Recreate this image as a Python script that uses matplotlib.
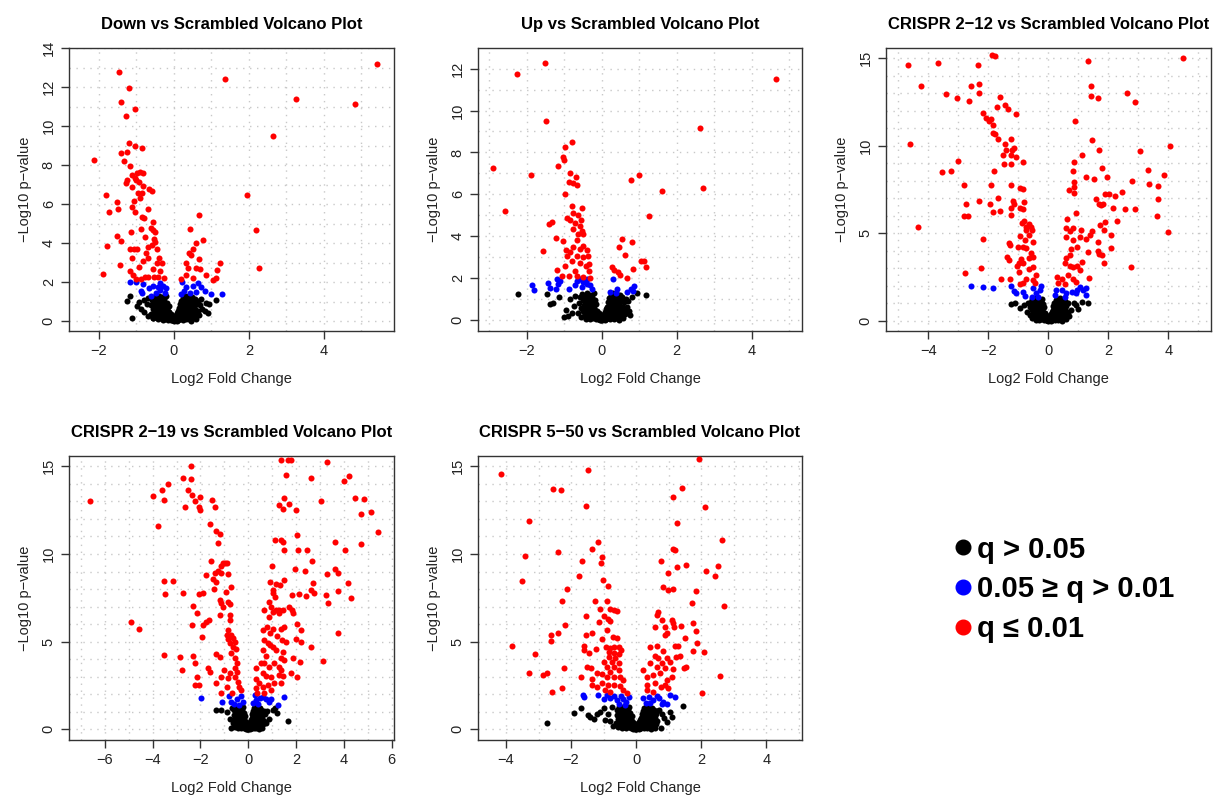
### volcano plots for knockdown / CRISPR lines vs scrambled control
import numpy as np
import matplotlib
matplotlib.use("Agg")
import matplotlib.pyplot as plt
from matplotlib.ticker import MultipleLocator
from matplotlib.lines import Line2D

plt.rcParams['font.family'] = ['Liberation Sans', 'DejaVu Sans']

### shared dense core of non-significant genes (log2FC, -log10 p)
core_black = [(-0.62,0.35),(-0.6,0.82),(-0.58,1.1),(-0.56,0.15),(-0.55,0.6),(-0.53,1.25),(-0.51,0.42),(-0.5,0.95),
    (-0.48,0.22),(-0.47,0.72),(-0.45,1.15),(-0.44,0.5),(-0.42,0.08),(-0.41,0.88),(-0.4,1.3),(-0.38,0.32),(-0.37,0.62),
    (-0.36,1.02),(-0.34,0.15),(-0.33,0.8),(-0.32,1.22),(-0.31,0.45),(-0.3,0.05),(-0.29,0.98),(-0.28,0.68),(-0.27,0.28),
    (-0.26,1.12),(-0.25,0.55),(-0.24,0.85),(-0.23,0.12),(-0.22,0.4),(-0.21,1.28),(-0.2,0.7),(-0.19,0.22),(-0.18,0.95),
    (-0.17,0.5),(-0.16,0.06),(-0.15,0.32),(-0.14,0.78),(-0.13,0.18),(-0.12,0.45),(-0.11,0.1),(-0.1,0.28),(-0.09,0.04),
    (-0.08,0.16),(-0.07,0.35),(-0.06,0.08),(-0.05,0.2),(-0.04,0.03),(-0.03,0.12),(-0.02,0.06),(-0.01,0.01),(0.0,0.1),
    (0.01,0.03),(0.02,0.14),(0.03,0.05),(0.04,0.22),(0.05,0.08),(0.06,0.3),(0.07,0.12),(0.08,0.02),(0.09,0.4),(0.1,0.18),
    (0.11,0.07),(0.12,0.52),(0.13,0.26),(0.14,0.65),(0.15,0.1),(0.16,0.38),(0.17,0.85),(0.18,0.2),(0.19,0.58),(0.2,1.05),
    (0.21,0.32),(0.22,0.75),(0.23,0.05),(0.24,1.2),(0.25,0.48),(0.26,0.9),(0.27,0.15),(0.28,0.66),(0.29,1.28),(0.3,0.36),
    (0.31,1.0),(0.32,0.08),(0.33,0.55),(0.34,0.82),(0.35,1.15),(0.36,0.25),(0.37,0.7),(0.38,1.3),(0.39,0.42),(0.4,0.95),
    (0.41,0.12),(0.42,0.6),(0.43,1.1),(0.44,0.3),(0.45,0.8),(0.46,0.02),(0.47,0.5),(0.48,1.22),(0.5,0.7),(0.51,0.18),
    (0.52,0.98),(0.54,0.4),(0.55,1.12),(0.57,0.62),(0.58,0.1),(0.6,0.85),(0.62,0.3),(0.64,1.02),(0.65,0.5)]

### Down vs Scrambled
down_red = [(5.42,13.18),(-1.47,12.75),(1.35,12.43),(-1.19,11.93),(-1.40,11.23),(3.25,11.38),(4.83,11.15),(-1.05,10.87),
    (-1.27,10.51),(2.63,9.50),(-1.19,9.15),(-1.03,8.99),(-0.84,8.89),(-1.40,8.63),(-1.24,8.68),(-2.12,8.26),(-1.34,8.22),
    (-1.16,7.95),(-0.91,7.64),(-0.98,7.57),(-1.11,7.49),(-0.83,7.57),(-1.05,7.32),(-1.0,7.23),(-1.24,7.23),(-1.29,7.06),
    (-0.93,7.15),(-1.11,6.89),(-0.83,6.94),(-0.66,6.79),(-0.58,6.65),(-0.95,6.55),(-0.84,6.58),(-1.82,6.48),(1.96,6.48),
    (-0.91,6.31),(-1.51,6.10),(-1.07,6.14),(-1.11,5.86),(-1.48,5.73),(-0.68,5.73),(-1.73,5.59),(-1.04,5.59),(-0.86,5.32),
    (-0.81,5.28),(0.68,5.42),(-0.56,5.09),(-1.14,4.55),(-0.87,4.72),(-0.62,4.75),(-0.56,4.67),(-0.51,4.55),(0.44,4.70),
    (2.18,4.68),(-1.52,4.36),(-1.42,4.12),(-0.76,4.32),(-0.53,4.21),(0.77,4.15),(0.60,3.98),(-0.50,4.07),(-0.69,3.81),
    (-0.58,3.88),(-1.79,3.86),(-1.18,3.69),(-1.06,3.71),(-0.98,3.69),(-0.45,3.68),(0.52,3.69),(-0.74,3.49),(0.40,3.49),
    (0.46,3.40),(-0.70,3.21),(-1.11,3.21),(-0.40,3.21),(0.66,3.16),(-0.83,3.09),(-0.45,2.97),(-0.33,2.97),(1.24,2.96),
    (-1.45,2.85),(0.33,2.96),(-0.93,2.79),(0.38,2.70),(2.28,2.70),(-0.56,2.65),(0.58,2.70),(1.16,2.62),(0.70,2.65),
    (-1.18,2.58),(-0.38,2.58),(0.86,2.34),(-1.10,2.34),(-1.88,2.39),(0.31,2.34),(-0.78,2.24),(-0.68,2.24),(-0.54,2.24),
    (-0.43,2.24),(-0.27,2.19),(1.11,2.19),(1.04,2.10),(0.51,2.19),(0.20,2.14),(-1.0,2.14),(-0.89,2.17)]
down_blue = [(-1.16,2.02),(-1.02,2.02),(-0.83,1.88),(-0.89,1.56),(-0.84,1.42),(-0.67,1.68),(-0.56,1.79),(-0.43,1.76),
    (-0.36,1.59),(-0.29,1.79),(-0.25,1.42),(-0.38,1.93),(-0.47,1.42),(-0.60,1.28),(0.22,2.02),(0.28,1.56),(0.20,1.38),
    (0.51,1.79),(0.64,1.93),(0.73,1.73),(0.84,1.54),(1.00,1.38),(1.29,1.37),(0.42,1.42),(0.60,1.50),(-0.20,1.68),(0.33,1.76)]
down_black = [(-1.12,0.14),(-1.26,1.03),(-1.16,1.28),(-0.94,0.99),(-0.81,0.48),(-0.57,0.14),(0.67,0.31),(0.82,0.51),
    (1.11,1.08),(0.93,0.85),(-0.88,0.62),(-0.72,0.88),(-0.98,0.75),(-0.79,1.08),(-0.7,0.28),(0.7,0.82),(0.76,0.6),
    (0.85,0.95),(0.72,1.15),(-0.68,1.2),(0.9,0.4)]

### Up vs Scrambled
up_red = [(-1.52,12.28),(-2.26,11.73),(4.64,11.48),(-1.48,9.50),(2.63,9.18),(-0.78,8.50),(-0.99,8.26),(-1.04,7.80),
    (-1.00,7.65),(-2.91,7.25),(-1.16,7.35),(-0.85,7.01),(-1.88,6.93),(-0.69,6.85),(0.99,6.95),(0.79,6.68),(-0.86,6.57),
    (-0.76,6.54),(-0.67,6.46),(2.71,6.30),(1.62,6.17),(-0.99,6.02),(-0.78,5.43),(-2.58,5.21),(-0.52,5.35),(-0.76,5.11),
    (-0.62,5.03),(1.25,4.95),(-0.93,4.88),(-0.84,4.80),(-0.56,4.80),(-0.70,4.64),(-1.32,4.67),(-1.41,4.61),(-0.58,4.48),
    (-0.76,4.35),(-0.53,4.24),(-0.62,4.13),(-0.49,4.12),(-0.65,3.85),(0.55,3.88),(0.80,3.75),(-1.22,3.91),(-1.02,3.78),
    (-0.49,3.53),(-0.58,3.40),(0.46,3.48),(-0.95,3.37),(-0.76,3.50),(-1.56,3.31),(-0.40,3.34),(-0.84,3.25),(-0.93,3.06),
    (0.62,3.09),(-0.67,3.06),(-0.51,3.02),(-0.36,3.06),(-0.80,2.82),(-0.58,2.74),(-0.98,2.58),(-0.42,2.58),(-0.33,2.69),
    (1.04,2.85),(1.13,2.85),(0.28,2.53),(0.32,2.42),(0.83,2.45),(1.18,2.53),(-1.20,2.39),(-0.71,2.34),(-0.33,2.34),
    (0.44,2.30),(0.48,2.18),(0.68,2.03),(-1.05,2.11),(-0.86,2.11),(-0.67,2.11),(-0.49,2.07),(-0.31,2.03)]
up_blue = [(-1.20,1.98),(-1.10,1.87),(-1.17,1.71),(-1.86,1.66),(-1.81,1.44),(-1.44,1.79),(-1.37,1.55),(-1.23,1.47),
    (-0.88,1.47),(-0.70,1.66),(-0.58,1.95),(-0.49,1.82),(-0.40,1.71),(-0.31,1.66),(-0.53,1.60),(-0.27,1.47),(-0.67,1.87),
    (-0.40,1.95),(0.30,1.98),(0.22,1.35),(0.42,1.47),(0.67,1.35),(0.78,1.47),(0.87,1.63),(0.84,1.39),(0.37,1.31)]
up_black = [(-2.24,1.23),(-1.46,1.27),(-1.13,1.11),(-1.38,0.76),(-1.29,0.84),(-1.0,0.17),(-0.89,0.21),(1.18,1.22),
    (0.93,1.31),(0.72,0.44),(0.67,0.63),(-0.85,1.0),(-0.75,0.7),(-0.7,1.15),(-0.95,0.5),(0.7,0.9),(0.8,1.1),
    (-0.78,0.35),(0.75,0.25)]

### CRISPR 2-12 vs Scrambled
c212_red = [(-1.87,15.19),(-1.78,15.13),(4.49,15.0),(-4.67,14.60),(-3.69,14.71),(-2.36,14.60),(1.33,14.81),(-4.25,13.42),
    (-2.57,13.39),(-2.30,13.50),(1.43,13.39),(-3.40,12.97),(-2.30,13.0),(2.63,13.02),(-3.03,12.74),(-1.60,12.78),
    (1.65,12.70),(1.41,12.82),(-2.65,12.53),(2.88,12.47),(-1.46,12.30),(-1.71,12.21),(-1.33,12.11),(-1.08,11.79),
    (-2.17,11.87),(-2.08,11.60),(-1.92,11.54),(-1.99,11.41),(0.88,11.41),(-1.83,11.16),(-1.85,10.73),(-1.78,10.65),
    (-1.68,10.40),(-1.24,10.37),(1.44,10.35),(-4.60,10.08),(-1.45,10.12),(4.04,9.99),(-1.14,9.89),(-1.20,9.78),(1.68,9.76),
    (-1.41,9.74),(3.07,9.70),(-1.51,9.49),(-1.26,9.44),(1.12,9.44),(-1.07,9.36),(-3.01,9.13),(-0.86,9.08),(0.86,9.08),
    (-1.49,8.94),(-1.25,8.94),(1.80,8.70),(3.31,8.60),(3.85,8.35),(-3.25,8.54),(-3.56,8.47),(-1.80,8.56),(0.83,8.56),
    (1.27,8.22),(1.51,8.11),(1.97,8.22),(2.78,8.01),(0.85,7.94),(-2.80,7.78),(-1.91,7.73),(-1.24,7.75),(3.37,7.82),
    (3.64,7.69),(0.85,7.65),(-0.96,7.59),(-0.85,7.50),(0.69,7.46),(0.86,7.31),(2.46,7.35),(1.89,7.27),(2.02,7.27),
    (2.22,7.14),(1.60,6.95),(3.67,6.93),(-1.68,7.04),(-2.32,6.85),(-1.18,6.84),(-0.80,6.80),(-2.75,6.70),(-1.15,6.70),
    (-1.94,6.66),(1.70,6.70),(1.75,6.61),(1.82,6.66),(2.15,6.47),(-1.26,6.42),(-0.94,6.42),(-0.85,6.36),(2.57,6.36),
    (2.89,6.38),(-1.85,6.21),(-1.62,6.25),(0.92,6.17),(-1.24,6.04),(-2.80,5.98),(-2.69,5.98),(3.61,5.98),(1.89,5.66),
    (2.28,5.70),(0.63,5.79),(-0.89,5.60),(-0.80,5.71),(-0.66,5.52),(-0.57,5.37),(-0.74,5.37),(1.72,5.47),(0.58,5.28),
    (0.83,5.30),(-4.36,5.35),(3.99,5.05),(-0.74,5.18),(-0.54,5.18),(0.72,5.15),(1.08,5.18),(1.45,5.13),(1.87,5.18),
    (-0.96,4.84),(-0.63,4.88),(1.05,4.80),(1.39,4.90),(2.09,4.90),(-2.18,4.69),(0.60,4.77),(1.27,4.67),(1.66,4.52),
    (0.83,4.61),(-0.79,4.61),(-0.51,4.52),(-1.32,4.46),(-1.27,4.33),(-1.01,4.23),(-0.85,4.23),(2.08,4.14),(-0.74,4.14),
    (0.77,4.08),(0.94,4.20),(1.33,3.91),(1.64,4.01),(1.70,3.82),(1.78,3.76),(-0.59,3.85),(-0.51,3.66),(0.72,3.76),
    (0.60,3.57),(-1.37,3.63),(-1.32,3.47),(-0.91,3.51),(-0.66,3.57),(-0.83,3.28),(-0.98,3.28),(-1.05,3.15),(1.12,3.38),
    (1.87,3.28),(0.55,3.28),(0.72,3.15),(0.83,3.09),(0.94,3.15),(2.75,3.06),(-2.23,3.04),(-0.51,3.09),(-0.65,2.94),
    (1.05,2.90),(-0.98,2.81),(-2.78,2.75),(-0.40,2.62),(0.64,2.62),(1.34,2.43),(-1.27,2.39),(-1.58,2.37),(-0.74,2.37),
    (-0.51,2.34),(0.29,2.49),(0.45,2.37),(0.83,2.37),(0.91,2.24),(-0.46,2.15),(0.32,2.15),(0.56,2.11),(-0.96,2.11),
    (-0.84,2.18)]
c212_blue = [(-2.58,1.99),(-2.17,1.94),(-1.83,1.88),(-1.24,1.99),(-1.15,1.71),(-1.07,1.58),(-0.84,1.65),(-0.77,1.42),
    (-0.51,1.86),(-0.40,1.58),(-0.29,1.77),(-0.56,1.39),(-0.35,1.39),(-0.23,1.99),(0.27,1.77),(0.21,1.48),(0.44,1.77),
    (0.60,1.58),(0.55,1.39),(0.79,1.65),(0.92,1.58),(1.05,1.96),(1.16,1.77),(1.27,1.86),(1.27,1.48),(0.95,1.77)]
c212_black = [(-1.26,0.95),(1.31,1.01),(1.11,1.1),(0.92,0.9),(-1.1,1.0),(-0.95,0.75),(-0.8,0.9),(-0.72,0.5),
    (0.75,0.65),(0.85,1.05),(-0.68,1.05),(0.7,0.3),(1.0,0.7)]

### CRISPR 2-19 vs Scrambled
c219_red = [(-6.63,13.02),(-4.92,6.13),(-4.56,5.70),(-3.98,13.29),(-3.76,11.60),(-3.62,13.63),(-3.51,13.08),(-3.36,14.01),
    (-3.51,8.47),(-3.47,7.69),(-3.13,8.47),(-3.53,4.23),(-2.84,4.12),(-2.78,3.38),(-2.74,7.78),(-2.74,14.35),(-2.64,12.68),
    (-2.53,13.63),(-2.41,15.0),(-2.41,14.30),(-2.37,13.35),(-2.23,13.02),(-2.05,12.68),(-2.02,13.25),(-2.02,12.49),
    (-2.37,5.94),(-2.30,7.04),(-2.32,4.18),(-2.23,3.76),(-2.13,6.66),(-2.06,7.69),(-1.95,5.28),(-2.16,3.0),(-2.23,2.53),
    (-2.06,2.53),(-1.88,7.75),(-1.88,5.94),(-1.78,8.79),(-1.77,6.13),(-1.63,6.23),(-1.58,11.70),(-1.55,9.61),(-1.67,3.47),
    (-1.60,3.28),(-1.51,13.06),(-1.40,12.68),(-1.47,8.60),(-1.45,8.03),(-1.40,8.89),(-1.33,8.41),(-1.36,11.32),
    (-1.19,11.16),(-1.26,10.63),(-1.26,9.04),(-1.16,8.92),(-1.15,9.30),(-1.05,9.46),(-0.97,9.49),(-0.89,9.49),(-0.84,8.85),
    (-1.19,7.37),(-1.12,7.18),(-1.05,6.99),(-0.94,7.84),(-1.19,6.51),(-0.84,7.27),(-0.77,7.14),(-0.72,8.13),(-0.77,6.51),
    (-0.77,6.23),(-0.83,5.66),(-0.90,5.37),(-0.84,5.13),(-0.77,4.90),(-0.71,5.37),(-0.64,5.18),(-0.57,4.99),(-0.64,4.71),
    (-0.53,4.56),(-0.71,4.33),(-0.57,4.04),(-0.47,3.76),(-0.55,3.47),(-0.46,3.28),(-0.57,3.0),(-0.43,2.72),(-0.39,2.43),
    (-0.29,2.24),(-1.36,4.29),(-1.19,4.14),(-1.02,3.38),(-1.15,3.0),(-1.33,2.62),(-1.12,2.09),(-0.89,2.39),(-0.83,2.90),
    (-0.77,3.19),(-0.68,2.05),(1.37,15.38),(1.60,14.49),(1.66,15.38),(1.80,15.34),(3.31,15.25),(2.61,14.35),(4.0,14.16),
    (4.20,14.43),(1.48,13.21),(1.27,12.78),(1.44,12.59),(1.72,12.87),(1.99,12.53),(3.06,13.02),(4.48,13.21),(4.83,13.12),
    (4.73,12.30),(5.15,12.38),(5.42,11.24),(2.06,11.07),(1.11,10.82),(1.37,10.82),(1.47,10.69),(1.48,10.21),(2.10,10.25),
    (2.46,10.21),(3.65,10.69),(4.07,10.21),(4.72,10.59),(1.0,9.32),(1.96,9.17),(2.66,9.59),(2.38,9.04),(3.65,9.17),
    (3.31,8.85),(3.76,8.89),(1.48,8.51),(0.91,8.41),(1.16,8.28),(1.33,8.22),(2.71,8.35),(4.16,8.32),(1.05,7.97),(1.02,7.75),
    (1.85,7.65),(2.13,7.69),(2.64,7.97),(2.75,7.75),(2.43,7.59),(3.24,7.65),(3.76,7.90),(4.32,7.50),(3.35,7.18),(0.86,7.27),
    (1.13,7.52),(0.68,6.83),(0.95,6.95),(1.02,6.70),(1.16,6.80),(1.30,6.83),(1.44,6.80),(1.72,6.95),(1.83,6.80),(1.89,6.61),
    (1.30,6.61),(0.86,6.42),(2.06,6.0),(2.19,5.66),(0.61,5.66),(0.79,5.85),(1.02,5.70),(1.37,5.75),(1.51,5.85),(3.76,5.51),
    (0.91,5.47),(1.20,5.32),(1.41,5.09),(1.60,4.99),(1.99,5.13),(2.19,4.99),(0.68,5.09),(0.82,4.94),(0.91,4.80),(1.05,4.71),
    (1.16,4.52),(1.47,4.42),(2.63,4.71),(0.61,4.52),(0.75,4.18),(1.37,4.04),(1.51,3.95),(1.88,4.04),(2.17,3.82),(3.14,3.89),
    (0.54,3.76),(0.68,3.76),(0.89,3.57),(1.09,3.76),(1.27,3.57),(1.37,3.38),(0.33,3.47),(0.61,3.19),(0.75,3.04),(0.95,3.0),
    (1.30,3.09),(1.47,3.04),(1.78,3.23),(2.03,3.0),(0.33,2.85),(0.47,2.62),(0.82,2.53),(1.09,2.62),(1.37,2.62),(0.33,2.34),
    (0.61,2.39),(0.95,2.24),(0.36,2.09),(0.68,2.09)]
c219_blue = [(-1.98,1.80),(-1.08,1.58),(-0.80,1.90),(-0.71,1.58),(-0.59,1.44),(-0.47,1.71),(-0.39,1.39),(-0.29,1.90),
    (-0.22,1.58),(0.28,1.96),(0.33,1.67),(0.40,1.44),(0.51,1.77),(0.61,1.86),(0.75,1.71),(0.86,1.58),(0.95,1.71),
    (1.23,1.39),(1.51,1.86),(0.22,1.48)]
c219_black = [(-1.33,1.10),(-1.16,1.10),(-0.71,0.09),(1.66,0.49),(0.89,0.57),(1.02,1.10),(1.13,1.20),(-0.9,1.0),
    (0.8,1.05),(-0.75,0.6),(0.75,0.35),(-0.7,1.2),(0.7,0.9),(1.2,0.95)]

### CRISPR 5-50 vs Scrambled
c550_red = [(-4.16,14.56),(-1.49,14.81),(1.94,15.44),(-2.56,13.73),(-2.30,13.63),(-1.55,12.76),(1.40,13.76),(1.14,13.25),
    (2.12,12.68),(-3.29,11.89),(1.27,11.77),(2.64,10.82),(-1.16,10.69),(-1.36,10.27),(-3.43,9.87),(-2.39,10.10),
    (-1.06,9.83),(-1.08,9.49),(-1.67,9.61),(1.19,10.21),(1.14,10.31),(0.76,9.61),(1.27,9.27),(1.53,9.36),(2.16,9.04),
    (2.52,9.32),(2.44,8.73),(0.97,8.89),(-1.77,8.77),(-1.02,8.54),(-3.51,8.47),(-0.85,8.16),(-2.12,8.01),(0.84,8.13),
    (0.97,7.97),(1.14,8.01),(1.83,7.88),(-2.27,7.33),(-1.26,7.31),(-0.89,7.31),(1.71,7.18),(2.71,7.03),(-1.12,6.85),
    (-0.80,6.89),(-0.67,6.80),(-0.59,6.74),(0.68,6.70),(0.63,6.51),(-1.54,6.46),(-1.0,6.46),(-0.86,6.32),(-0.80,6.19),
    (0.79,6.23),(1.09,6.23),(1.14,6.08),(1.76,6.09),(-2.20,5.96),(-1.15,6.13),(0.58,5.85),(0.89,5.85),(1.17,5.81),
    (1.37,5.89),(-0.88,5.66),(-1.36,5.51),(-1.53,5.37),(-2.63,5.37),(-2.39,5.47),(0.94,5.47),(1.83,5.62),(0.89,5.37),
    (-0.71,5.24),(-0.59,5.18),(-1.04,5.13),(-2.63,5.05),(1.49,5.18),(1.87,4.90),(-3.80,4.78),(-1.61,4.75),(-0.92,4.71),
    (-0.80,4.61),(-0.69,4.71),(-0.54,4.71),(-0.46,4.52),(0.43,4.67),(0.63,4.75),(1.19,4.75),(1.30,4.75),(-1.22,4.56),
    (-1.61,4.52),(-0.82,4.42),(-0.67,4.33),(-0.54,4.29),(0.84,4.48),(1.76,4.48),(2.09,4.42),(-1.44,4.33),(-3.10,4.27),
    (-0.82,4.14),(-0.64,4.04),(0.58,4.18),(0.68,4.04),(0.94,4.04),(1.24,4.10),(1.35,4.18),(-1.0,3.85),(-0.74,3.85),
    (-0.54,3.76),(0.43,3.76),(0.79,3.76),(1.04,3.85),(-0.90,3.57),(-0.67,3.57),(-1.51,3.57),(-1.38,3.47),(-2.21,3.51),
    (1.52,3.57),(1.48,3.47),(0.63,3.57),(0.22,3.38),(0.89,3.47),(-0.80,3.28),(-0.54,3.38),(-3.28,3.23),(-2.73,3.23),
    (-2.87,3.08),(2.57,3.04),(1.12,3.42),(-1.20,3.23),(-1.05,3.15),(0.33,3.0),(0.53,3.09),(0.73,3.19),(1.09,3.0),
    (-1.68,3.0),(-1.36,2.85),(-0.90,3.0),(-0.67,3.0),(-0.49,2.96),(-0.39,2.81),(-1.05,2.66),(-0.85,2.53),(-0.69,2.53),
    (-0.49,2.47),(-1.36,2.53),(-1.20,2.43),(0.94,2.81),(0.89,2.53),(0.35,2.53),(0.58,2.62),(0.76,2.43),(0.97,2.34),
    (-2.58,2.15),(-2.27,2.34),(2.04,2.09),(-0.39,2.24),(-0.29,2.09),(0.33,2.24),(0.53,2.15),(-0.80,2.15),(-0.95,2.24)]
c550_blue = [(-1.64,1.96),(-1.59,1.82),(-1.17,1.96),(-1.0,1.71),(-0.90,1.96),(-0.80,1.80),(-0.69,1.90),(-0.59,1.67),
    (-0.47,1.90),(-0.39,1.71),(-0.31,1.58),(-0.54,1.44),(-0.34,1.39),(-0.23,1.86),(0.22,1.77),(0.31,1.52),(0.41,1.86),
    (0.51,1.67),(0.63,1.90),(0.71,1.80),(0.84,1.58),(0.94,1.44),(1.04,1.96),(1.19,1.82),(0.79,1.44),(0.43,1.52)]
c550_black = [(-2.73,0.34),(-1.92,0.91),(-1.69,1.20),(-1.49,0.82),(-1.41,0.72),(-1.10,1.01),(-0.97,0.53),(-0.8,0.45),
    (1.43,1.33),(1.04,1.01),(0.87,0.63),(0.76,0.06),(0.58,0.44),(-1.2,0.85),(-1.0,1.2),(-0.85,0.9),(-0.75,1.25),
    (-0.7,0.2),(0.7,1.1),(0.8,0.85),(0.95,0.4),(1.1,0.7),(-1.3,0.6)]

titles = ['Down vs Scrambled Volcano Plot', 'Up vs Scrambled Volcano Plot',
          'CRISPR 2\u221212 vs Scrambled Volcano Plot', 'CRISPR 2\u221219 vs Scrambled Volcano Plot',
          'CRISPR 5\u221250 vs Scrambled Volcano Plot']
legend_labels = ['q > 0.05', '0.05 \u2265 q > 0.01', 'q \u2264 0.01']

panels = [
    (down_red, down_blue, down_black),
    (up_red, up_blue, up_black),
    (c212_red, c212_blue, c212_black),
    (c219_red, c219_blue, c219_black),
    (c550_red, c550_blue, c550_black),
]

### layout (pixels -> figure fractions)
W, H = 1231, 796
boxes = [(69, 48, 394, 331), (478, 48, 802, 331), (886, 48, 1211, 331),
         (69, 456, 394, 740), (478, 456, 802, 740)]
xlims = [(-2.8, 5.87), (-3.3, 5.34), (-5.41, 5.42), (-7.5, 6.1), (-4.86, 5.1)]
ylims = [(-0.51, 14.0), (-0.51, 12.98), (-0.57, 15.57), (-0.61, 15.59), (-0.61, 15.59)]
xticks = [[-2, 0, 2, 4], [-2, 0, 2, 4], [-4, -2, 0, 2, 4], [-6, -4, -2, 0, 2, 4, 6], [-4, -2, 0, 2, 4]]
ysteps = [2, 2, 5, 5, 5]

fig = plt.figure(figsize=(W / 100, H / 100), dpi=100)

for i, (red, blue, black) in enumerate(panels):
    x0, y0, x1, y1 = boxes[i]
    ax = fig.add_axes([x0 / W, 1 - y1 / H, (x1 - x0) / W, (y1 - y0) / H])

    ### dotted grid at every unit, drawn under the points
    ax.xaxis.set_minor_locator(MultipleLocator(1))
    ax.yaxis.set_minor_locator(MultipleLocator(1))
    ax.grid(which='both', color='#c8c8c8', linestyle=(0, (1, 4)), linewidth=1.0)
    ax.set_axisbelow(True)

    blk = np.array(core_black + black)
    ax.scatter(blk[:, 0], blk[:, 1], s=19, c='black', linewidths=0, zorder=3)
    b = np.array(blue)
    ax.scatter(b[:, 0], b[:, 1], s=19, c='blue', linewidths=0, zorder=3)
    r = np.array(red)
    ax.scatter(r[:, 0], r[:, 1], s=19, c='red', linewidths=0, zorder=3)

    ax.set_xlim(*xlims[i])
    ax.set_ylim(*ylims[i])
    ax.set_xticks(xticks[i])
    ax.set_yticks(np.arange(0, ylims[i][1] + 0.01, ysteps[i]))
    ax.set_xticklabels([str(t).replace('-', '\u2212') for t in xticks[i]])
    ax.tick_params(which='minor', length=0)
    ax.tick_params(which='major', direction='out', length=6, width=1, labelsize=10.5,
                   color='#333333', labelcolor='#222222')
    for lab in ax.get_yticklabels():
        lab.set_rotation(90)
        lab.set_va('center')
    for sp in ax.spines.values():
        sp.set_color('#333333')
        sp.set_linewidth(1.0)

    ax.set_title(titles[i], fontsize=12, fontweight='bold', pad=14)
    ax.set_xlabel('Log2 Fold Change', fontsize=10.5, labelpad=10, color='#222222')
    ax.set_ylabel('\u2212Log10 p\u2212value', fontsize=10.5, labelpad=7, color='#222222')

### legend in the empty sixth slot
handles = [Line2D([], [], marker='o', linestyle='', color=c, markersize=10.5) for c in ['black', 'blue', 'red']]
fig.legend(handles, legend_labels, loc='upper left', bbox_to_anchor=(940 / W, 1 - 521 / H),
           frameon=False, handlelength=0.55, handletextpad=0.22, labelspacing=0.4, borderpad=0,
           prop={'family': ['Liberation Sans', 'DejaVu Sans'], 'weight': 'bold', 'size': 21})

fig.savefig('out.png', dpi=100)
